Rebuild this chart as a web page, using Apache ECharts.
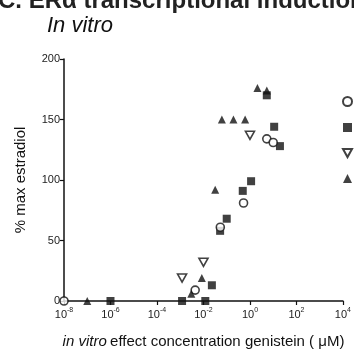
<!DOCTYPE html>
<html>
<head>
<meta charset="utf-8">
<script src="https://cdn.jsdelivr.net/npm/echarts@6/dist/echarts.min.js"></script>
<style>
  html, body { margin: 0; padding: 0; background: #fff; }
  #chart { width: 354px; height: 354px; }
</style>
</head>
<body>
<div id="chart"></div>
<script>
// Genistein concentration (µM) and response (% of max estradiol), one pair of arrays per assay
const circleX = [1e-8, 0.0044, 0.053, 0.53, 5.3, 10];
const circleY = [0, 9, 61, 81, 134, 131];

const squareX = [1e-6, 0.0012, 0.012, 0.023, 0.052, 0.1, 0.49, 1.12, 5.3, 11, 19.5];
const squareY = [0, 0, 0, 13, 58, 68, 91, 99, 170, 144, 128];

const downTriX = [0.0012, 0.01, 1.0];
const downTriY = [19, 32, 137];

const upTriX = [1e-7, 0.003, 0.0085, 0.032, 0.062, 0.195, 0.62, 2.1, 5.3];
const upTriY = [0, 6, 19, 92, 150, 150, 150, 176, 174];

const seriesNames = ['Assay A', 'Assay B', 'Assay C', 'Assay D'];
const yTicks = [0, 50, 100, 150, 200];

const pairs = (xs, ys) => xs.map((x, i) => [x, ys[i]]);
const font = '"Liberation Sans", Arial, sans-serif';
const ink = '#111';

const chart = echarts.init(document.getElementById('chart'), null, { renderer: 'canvas' });

const hollow = { color: '#fff', borderColor: ink, borderWidth: 1.6 };
const filled = { color: ink, borderWidth: 0 };

chart.setOption({
  animation: false,
  backgroundColor: '#fff',
  graphic: [
    {
      type: 'text', left: -2, top: -11,
      style: { text: 'C. ERα transcriptional induction', font: 'bold 24px ' + font, fill: '#222' }
    },
    {
      type: 'text', left: 47, top: 15,
      style: { text: 'In vitro', font: 'italic 22px ' + font, fill: ink }
    }
  ],
  legend: {
    orient: 'vertical',
    left: 342,
    top: 96,
    padding: 0,
    itemWidth: 9,
    itemHeight: 9,
    itemGap: 16,
    formatter: () => '',
    data: seriesNames
  },
  grid: { left: 64, right: 11, top: 59, bottom: 53, containLabel: false },
  xAxis: {
    type: 'log',
    logBase: 10,
    min: 1e-8,
    max: 1e4,
    interval: 2,
    splitLine: { show: false },
    axisLine: { lineStyle: { color: ink, width: 1.5 } },
    axisTick: { length: 4, lineStyle: { color: ink, width: 1.2 } },
    axisLabel: {
      margin: 6,
      formatter: v => '{b|10}{s|' + Math.round(Math.log10(v)) + '}',
      rich: {
        b: { fontFamily: font, fontSize: 11, color: '#222', lineHeight: 13, verticalAlign: 'bottom' },
        s: { fontFamily: font, fontSize: 7, color: '#222', lineHeight: 8, verticalAlign: 'top' }
      }
    },
    name: '{i|in vitro} {n|effect concentration genistein ( μM)}',
    nameLocation: 'middle',
    nameGap: 33,
    nameTextStyle: {
      rich: {
        i: { fontFamily: font, fontSize: 15, fontStyle: 'italic', color: ink },
        n: { fontFamily: font, fontSize: 15, color: ink }
      }
    }
  },
  yAxis: {
    type: 'value',
    min: 0,
    max: 200,
    interval: 50,
    splitLine: { show: false },
    axisLine: { show: true, lineStyle: { color: ink, width: 1.5 } },
    axisTick: { show: true, length: 4, lineStyle: { color: ink, width: 1.2 } },
    axisLabel: { fontFamily: font, fontSize: 11, color: '#222', margin: 4,
      formatter: v => (yTicks.indexOf(v) >= 0 ? String(v) : '') },
    name: '% max estradiol',
    nameLocation: 'middle',
    nameGap: 36,
    nameTextStyle: { fontFamily: font, fontSize: 15, color: ink }
  },
  series: [
    { name: seriesNames[0], type: 'scatter', symbol: 'circle', symbolSize: 8,
      itemStyle: hollow, data: pairs(circleX, circleY), z: 5 },
    { name: seriesNames[1], type: 'scatter', symbol: 'rect', symbolSize: 8,
      itemStyle: filled, data: pairs(squareX, squareY), z: 4 },
    { name: seriesNames[2], type: 'scatter', symbol: 'path://M0,0L10,0L5,9Z', symbolSize: [9, 8],
      itemStyle: hollow, data: pairs(downTriX, downTriY), z: 5 },
    { name: seriesNames[3], type: 'scatter', symbol: 'triangle', symbolSize: [8, 8],
      itemStyle: filled, data: pairs(upTriX, upTriY), z: 6 }
  ]
});
</script>
</body>
</html>
